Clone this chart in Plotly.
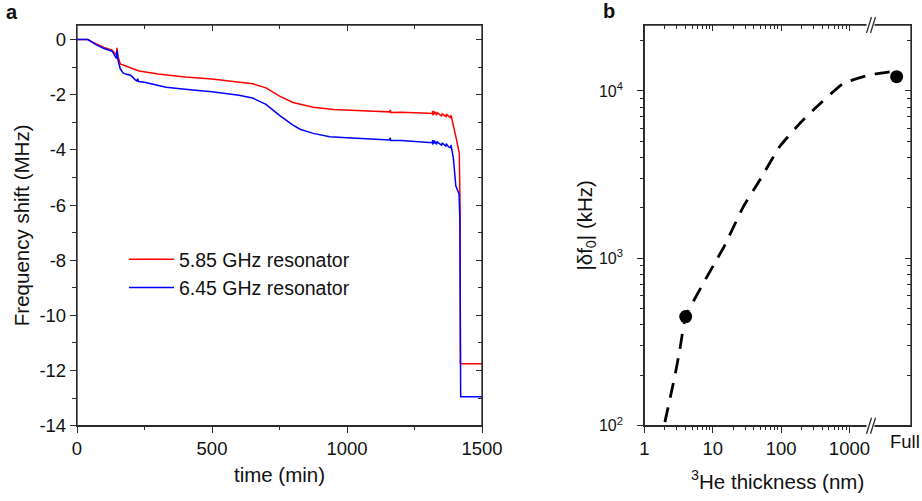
import plotly.graph_objects as go

# ---------------- Panel a data ----------------
time_red = [0, 40, 70, 100, 130, 140, 146, 148, 152, 160, 180, 200, 215, 230, 300, 400, 500,
            600, 650, 700, 750, 800, 875, 950, 1000, 1100, 1158, 1160, 1162, 1200, 1300,
            1316, 1317, 1318, 1322, 1323, 1332, 1333, 1351, 1352, 1367, 1368, 1384, 1385,
            1388, 1394, 1405, 1416, 1419, 1420, 1500]
shift_red = [0, 0, -0.15, -0.28, -0.38, -0.48, -0.55, -0.3, -0.6, -0.88, -0.95, -1.02, -1.1, -1.14,
             -1.25, -1.36, -1.43, -1.53, -1.6, -1.75, -2.05, -2.28, -2.45, -2.53, -2.56, -2.6,
             -2.62, -2.55, -2.64, -2.63, -2.67, -2.68, -2.58, -2.72, -2.7, -2.6, -2.74, -2.64,
             -2.78, -2.68, -2.8, -2.7, -2.84, -2.74, -2.86, -3.1, -3.6, -4.13, -6.3, -11.75, -11.75]

time_blue = [0, 40, 70, 100, 130, 140, 146, 148, 152, 160, 170, 180, 200, 215, 222, 225, 228, 250,
             300, 330, 400, 500, 600, 650, 700, 750, 800, 826, 875, 936, 1000, 1100, 1158, 1160,
             1162, 1200, 1300, 1316, 1317, 1318, 1322, 1323, 1332, 1333, 1351, 1352, 1367, 1368,
             1376, 1384, 1385, 1388, 1394, 1403, 1415, 1418, 1419, 1421, 1500]
shift_blue = [0, 0, -0.18, -0.32, -0.42, -0.62, -0.68, -0.4, -0.75, -1.05, -1.2, -1.25, -1.3, -1.45,
              -1.5, -1.42, -1.52, -1.55, -1.67, -1.73, -1.8, -1.89, -2.02, -2.12, -2.35, -2.75,
              -3.1, -3.25, -3.4, -3.52, -3.56, -3.62, -3.64, -3.56, -3.66, -3.66, -3.72, -3.74,
              -3.64, -3.78, -3.76, -3.66, -3.8, -3.7, -3.84, -3.74, -3.87, -3.77, -3.89, -3.92,
              -3.82, -3.96, -4.3, -5.3, -5.6, -6.5, -12.2, -12.95, -12.95]

label_red = "5.85 GHz resonator"
label_blue = "6.45 GHz resonator"

yticks_a = [0, -2, -4, -6, -8, -10, -12, -14]
yticktext_a = ["0", "-2", "-4", "-6", "-8", "-10", "-12", "-14"]
xticks_a = [0, 500, 1000, 1500]

# ---------------- Panel b data ----------------
curve_thick = [2.0, 2.81, 3.3, 4.03, 11.4, 14.3, 28, 49, 95, 189, 296, 813, 1990, 4150]
curve_shift = [105, 200, 283, 449, 980, 1150, 2030, 2940, 4640, 6410, 7700, 11100, 12470, 13070]
point_thick = [4.03, 4900]
point_shift = [449, 12170]

xticks_b = [1, 10, 100, 1000]
xticktext_b = ["1", "10", "100", "1000"]
xminor_b = [2, 3, 4, 5, 6, 7, 8, 9, 20, 30, 40, 50, 60, 70, 80, 90,
            200, 300, 400, 500, 600, 700, 800, 900]
yticks_b = [100, 1000, 10000]
yticktext_b = ["10<sup>2</sup>", "10<sup>3</sup>", "10<sup>4</sup>"]
yminor_b = [200, 300, 400, 500, 600, 700, 800, 900,
            2000, 3000, 4000, 5000, 6000, 7000, 8000, 9000, 20000]

W, H = 922, 501
FONT = "Liberation Sans, Arial, sans-serif"
AX = "#2a2a2a"
TXT = "#111111"


def px(x):
    return x / W


def py(y):
    return 1 - y / H


dom_xa = [px(77), px(482)]
dom_xb = [px(644.3), px(911)]
dom_y = [py(425.7), py(25)]

fig = go.Figure()
fig.add_trace(go.Scatter(x=time_red, y=shift_red, mode="lines", name=label_red,
                         line=dict(color="#ff0000", width=1.5), xaxis="x", yaxis="y",
                         legendgroup="r"))
fig.add_trace(go.Scatter(x=time_blue, y=shift_blue, mode="lines", name=label_blue,
                         line=dict(color="#0000ff", width=1.5), xaxis="x", yaxis="y",
                         legendgroup="b"))
fig.add_trace(go.Scatter(x=curve_thick, y=curve_shift, mode="lines", showlegend=False,
                         line=dict(color="black", width=2.8, dash="15px,10px",
                                   shape="spline", smoothing=0.4),
                         xaxis="x2", yaxis="y2"))
fig.add_trace(go.Scatter(x=point_thick, y=point_shift, mode="markers", showlegend=False,
                         marker=dict(color="black", size=13), xaxis="x2", yaxis="y2"))
# empty traces that attach the mirror (top/right) axes
for xa, ya in (("x3", "y"), ("x", "y3"), ("x4", "y2"), ("x2", "y4")):
    fig.add_trace(go.Scatter(x=[None], y=[None], mode="lines", xaxis=xa, yaxis=ya,
                             showlegend=False, hoverinfo="skip"))

common = dict(showline=True, linecolor=AX, linewidth=1.3, ticks="outside", ticklen=6,
              tickwidth=1.3, tickcolor=AX, showgrid=False, zeroline=False, automargin=False,
              tickfont=dict(family=FONT, size=18.5, color=TXT))
mirror_common = dict(showline=True, linecolor=AX, linewidth=1.3, ticks="inside", ticklen=6,
                     tickwidth=1.3, tickcolor=AX, showgrid=False, zeroline=False,
                     showticklabels=False, automargin=False)
title_font = dict(family=FONT, size=20.5, color=TXT)
mo = dict(ticks="outside", ticklen=3.5, tickcolor=AX, tickwidth=1.2, showgrid=False)
mi = dict(ticks="inside", ticklen=3.5, tickcolor=AX, tickwidth=1.2, showgrid=False)

fig.update_layout(
    template="none",
    width=W, height=H, margin=dict(l=0, r=0, t=0, b=0, autoexpand=False),
    paper_bgcolor="white", plot_bgcolor="white",
    font=dict(family=FONT, color=TXT),
    xaxis=dict(domain=dom_xa, anchor="y", range=[0, 1500], tickvals=xticks_a,
               minor=dict(dtick=250, tick0=0, **mo),
               title=dict(text="time (min)", font=title_font, standoff=9), **common),
    yaxis=dict(domain=dom_y, anchor="x", range=[-14, 0.53], tickvals=yticks_a, ticktext=yticktext_a,
               minor=dict(dtick=1, tick0=0, **mo),
               title=dict(text="Frequency shift (MHz)", font=title_font, standoff=4), **common),
    xaxis3=dict(overlaying="x", side="top", anchor="y", range=[0, 1500], tickvals=xticks_a,
                minor=dict(dtick=250, tick0=0, **mi), **mirror_common),
    yaxis3=dict(overlaying="y", side="right", anchor="x", range=[-14, 0.53], tickvals=yticks_a,
                minor=dict(dtick=1, tick0=0, **mi), **mirror_common),
    xaxis2=dict(domain=dom_xb, anchor="y2", type="log", range=[0, 3.9], tickvals=xticks_b,
                ticktext=xticktext_b, minor=dict(tickvals=xminor_b, **mo),
                title=dict(text="<sup>3</sup>He thickness (nm)", font=title_font, standoff=16), **common),
    yaxis2=dict(domain=dom_y, anchor="x2", type="log", range=[2, 4.394], tickvals=yticks_b,
                ticktext=yticktext_b, minor=dict(tickvals=yminor_b, **mo), ticklabelstandoff=11,
                title=dict(text="|δf<sub>0</sub>| (kHz)", font=title_font, standoff=0),
                **{**common, "tickfont": dict(family=FONT, size=16, color=TXT)}),
    xaxis4=dict(overlaying="x2", side="top", anchor="y2", type="log", range=[0, 3.9],
                tickvals=xticks_b, minor=dict(tickvals=xminor_b, **mi), **mirror_common),
    yaxis4=dict(overlaying="y2", side="right", anchor="x2", type="log", range=[2, 4.394],
                tickvals=yticks_b, minor=dict(tickvals=yminor_b, **mi), **mirror_common),
    legend=dict(x=px(124), y=py(240), xanchor="left", yanchor="top", bgcolor="rgba(0,0,0,0)",
                font=dict(family=FONT, size=19.5, color=TXT), tracegroupgap=0,
                traceorder="grouped", itemwidth=45),
    showlegend=True,
)

# panel letters and the "Full" label
fig.add_annotation(x=px(12), y=py(11.5), xref="paper", yref="paper", text="<b>a</b>",
                   xanchor="center", yanchor="middle",
                   showarrow=False, font=dict(family=FONT, size=20, color=TXT))
fig.add_annotation(x=px(608.5), y=py(10.5), xref="paper", yref="paper", text="<b>b</b>",
                   xanchor="center", yanchor="middle",
                   showarrow=False, font=dict(family=FONT, size=20, color=TXT))
fig.add_annotation(x=px(905), y=py(441), xref="paper", yref="paper", text="Full",
                   xanchor="center", yanchor="middle",
                   showarrow=False, font=dict(family=FONT, size=18.5, color=TXT))

# plot frames (axis lines on all four sides)
for xr, yr in (("x domain", "y domain"), ("x2 domain", "y2 domain")):
    fig.add_shape(type="rect", xref=xr, yref=yr, x0=0, x1=1, y0=0, y1=1,
                  line=dict(color=AX, width=1.3), fillcolor="rgba(0,0,0,0)", layer="above")

# axis break marks on panel b
for yl in (25, 425.7):
    fig.add_shape(type="rect", xref="paper", yref="paper",
                  x0=px(866.5), x1=px(874.5), y0=py(yl + 2), y1=py(yl - 2),
                  fillcolor="white", line=dict(width=0), layer="above")
    for dx in (0, 4):
        fig.add_shape(type="line", xref="paper", yref="paper",
                      x0=px(866.5 + dx), y0=py(yl + 8), x1=px(871.5 + dx), y1=py(yl - 8),
                      line=dict(color=AX, width=1.3), layer="above")

fig.write_html("out.html")
